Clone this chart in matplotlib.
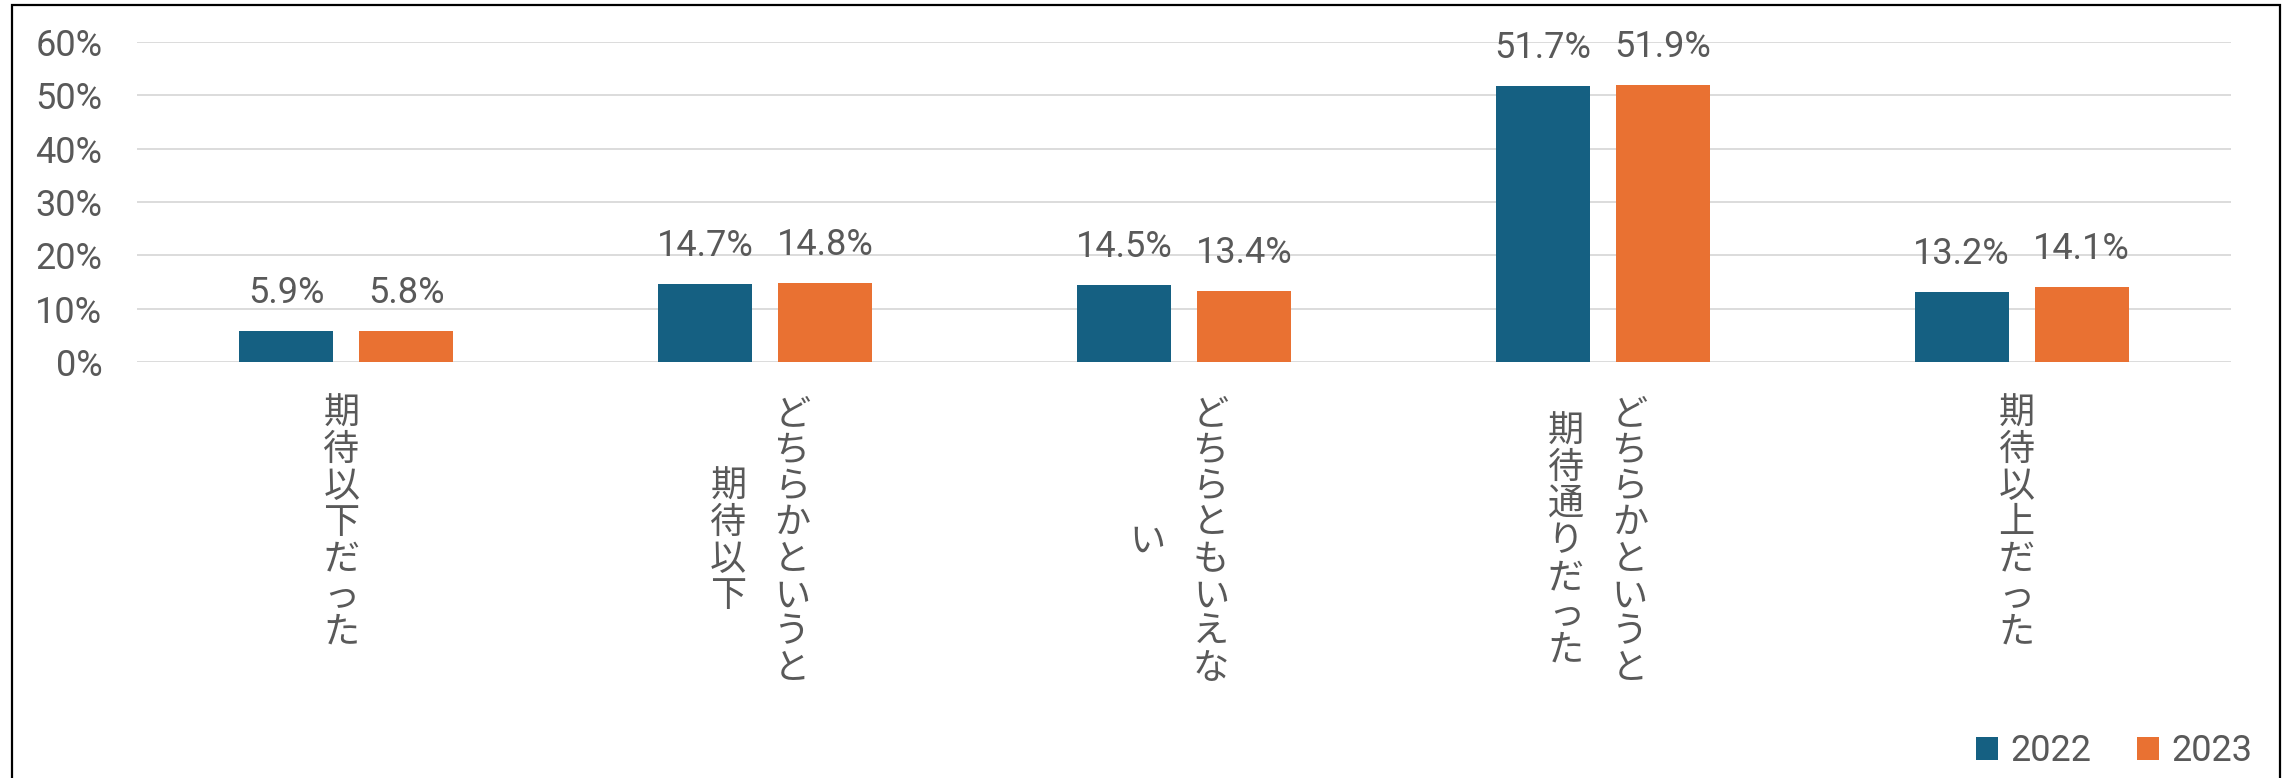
import matplotlib.pyplot as plt
from matplotlib.patches import Rectangle
import numpy as np

plt.rcParams['font.family'] = ['Roboto', 'Noto Sans CJK JP', 'DejaVu Sans']

categories = ["期待以下だった", "どちらかというと期待以下", "どちらともいえない",
              "どちらかというと期待通りだった", "期待以上だった"]
series_names = ["2022", "2023"]
values_2022 = [5.9, 14.7, 14.5, 51.7, 13.2]
values_2023 = [5.8, 14.8, 13.4, 51.9, 14.1]
yticks = [0, 10, 20, 30, 40, 50, 60]

blue = '#156082'
orange = '#E97132'
grey = '#595959'
fs = 26

W, H = 2292, 778
fig = plt.figure(figsize=(W / 100, H / 100), dpi=100)
ax = fig.add_axes([137 / W, 1 - 362 / H, (2231 - 137) / W, 320 / H])

x = np.arange(len(categories))
bw = 0.2243
off = 0.1432
b1 = ax.bar(x - off, values_2022, width=bw, color=blue, label=series_names[0], zorder=3)
b2 = ax.bar(x + off, values_2023, width=bw, color=orange, label=series_names[1], zorder=3)

# value labels above bars
for xs, vals in [(x - off, values_2022), (x + off, values_2023)]:
    for xi, v in zip(xs, vals):
        ax.annotate(f"{v:.1f}%", (xi, v), xytext=(0, 28), textcoords='offset pixels',
                    ha='center', va='baseline', fontsize=fs, color=grey)

ax.set_xlim(-0.5, len(categories) - 0.5)
ax.set_ylim(0, 60)
ax.set_yticks(yticks)
ax.set_yticklabels([f"{t}%" for t in yticks], fontsize=fs, color=grey)
ax.tick_params(axis='y', length=0, pad=25)
ax.set_xticks([])
ax.yaxis.grid(True, color='#D9D9D9', linewidth=1.3, zorder=0)
ax.set_axisbelow(True)
for s in ax.spines.values():
    s.set_visible(False)

# vertical category labels (columns of 8 chars, right to left)
per_col = 8
pitch = 36.5
for i, label in enumerate(categories):
    cols = [label[k:k + per_col] for k in range(0, len(label), per_col)]
    nmax = max(len(c) for c in cols)
    nc = len(cols)
    for j, col in enumerate(cols):
        dx = -5 + ((nc - 1) / 2 - j) * 64
        for k, ch in enumerate(col):
            dy = -(61.7 + (k + (nmax - len(col)) / 2) * pitch)
            ax.annotate(ch, (i, 0), xytext=(dx, dy), textcoords='offset pixels',
                        ha='center', va='baseline', fontsize=fs, color=grey,
                        annotation_clip=False)

fig.legend(handles=[b1, b2], loc='center right', bbox_to_anchor=(2252 / W, 1 - 751 / H),
           ncol=2, frameon=False, fontsize=fs, labelcolor=grey,
           handlelength=0.61, handleheight=0.61, handletextpad=0.33,
           columnspacing=1.27, borderpad=0, borderaxespad=0)

# outer frame (bottom edge falls outside the picture)
fig.patches.append(Rectangle((12 / W, -0.05), (2280 - 12) / W, 1.05 - 5 / H,
                             transform=fig.transFigure, fill=False,
                             edgecolor='black', linewidth=1.6))

fig.savefig('out.png', dpi=100)
